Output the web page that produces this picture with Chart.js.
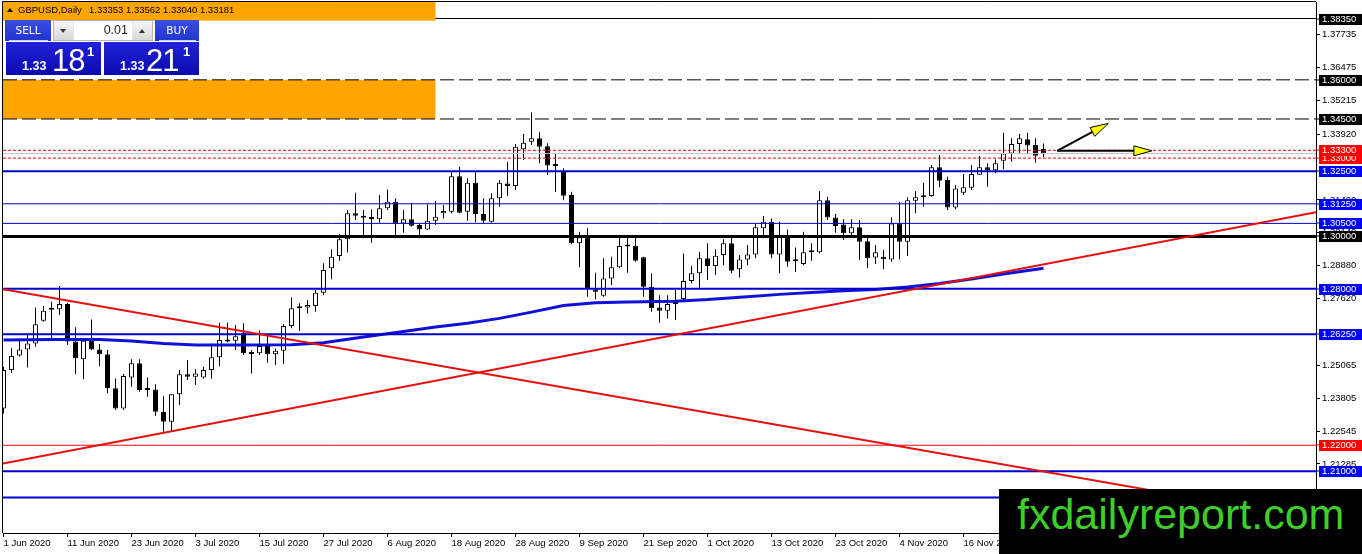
<!DOCTYPE html>
<html>
<head>
<meta charset="utf-8">
<title>GBPUSD Daily</title>
<script src="https://cdn.jsdelivr.net/npm/chart.js@4.4.0/dist/chart.umd.min.js"></script>
<style>
  html, body { margin: 0; padding: 0; background: #fff; }
  #wrap { position: relative; width: 1362px; height: 554px; overflow: hidden; }
  #chart { position: absolute; left: 0; top: 0; }
  #hdrTri { position: absolute; left: 7px; top: 8px; width: 0; height: 0;
    border-left: 3px solid transparent; border-right: 3px solid transparent; border-bottom: 4px solid #000; }
  .hdr { position: absolute; top: 5px; font: 9.5px/10px "Liberation Sans", sans-serif; color: #000; white-space: pre; }
  .btn { position: absolute; top: 20px; height: 21px; color: #fff; text-align: center;
    font: 10.5px/20px "DejaVu Sans", sans-serif; background: linear-gradient(#3a4ee2, #2034d0); }
  .btn::after { content: ""; position: absolute; left: 4px; right: 3px; bottom: 0; height: 1px; background: rgba(255,255,255,0.75); }
  #sellBtn { left: 5px; width: 46px; }
  #buyBtn { left: 155px; width: 44px; }
  #spin { position: absolute; left: 53px; top: 20px; width: 100px; height: 21px; box-sizing: border-box;
    background: #e6e6e6; border: 1px solid #b4b4b4; }
  .sb { position: absolute; top: 0; width: 19px; height: 19px; background: linear-gradient(#f6f6f6, #d8d8d8); }
  .tri { position: absolute; left: 6px; top: 8px; width: 0; height: 0;
    border-left: 3.5px solid transparent; border-right: 3.5px solid transparent; }
  .tri.dn { border-top: 4px solid #333; }
  .tri.up { border-bottom: 4px solid #333; }
  #lot { position: absolute; left: 20px; top: 0; width: 58px; height: 19px; box-sizing: border-box; padding-right: 4px;
    background: #fff; text-align: right; font: 12.5px/19px "Liberation Sans", sans-serif; color: #222; }
  .px { position: absolute; top: 42px; width: 95px; height: 33px; color: #fff;
    background: linear-gradient(180deg, #2222d8 0%, #0a0aae 100%); }
  #sellPx { left: 6px; }
  #buyPx { left: 104px; }
  .px span { position: absolute; white-space: nowrap; font-family: "Liberation Sans", sans-serif; }
  .px .s { left: 16px; top: 18px; font-size: 12.5px; line-height: 12.5px; font-weight: bold; }
  .px .l { top: 2.5px; font-size: 31px; line-height: 31px; letter-spacing: -1px; }
  .px .p { top: 3px; font-size: 13px; line-height: 13px; font-weight: bold; }
  #wm { position: absolute; left: 999px; top: 489px; width: 363px; height: 65px; background: #000; }
  #wm span { position: absolute; left: 18px; top: 4px; font: 43px/43px "Liberation Sans", sans-serif; color: #3ccf28; white-space: nowrap; }
</style>
</head>
<body>
<div id="wrap">
  <canvas id="chart" width="1362" height="554"></canvas>
  <div id="hdrTri"></div>
  <div class="hdr" style="left:18px">GBPUSD,Daily</div>
  <div class="hdr" style="left:89px">1.33353 1.33562 1.33040 1.33181</div>
  <div id="sellBtn" class="btn">SELL</div>
  <div id="spin">
    <div class="sb" style="left:0"><i class="tri dn"></i></div>
    <div id="lot">0.01</div>
    <div class="sb" style="right:0"><i class="tri up"></i></div>
  </div>
  <div id="buyBtn" class="btn">BUY</div>
  <div id="sellPx" class="px"><span class="s">1.33</span><span class="l" style="left:46px">18</span><span class="p" style="left:81px">1</span></div>
  <div id="buyPx" class="px"><span class="s">1.33</span><span class="l" style="left:42px">21</span><span class="p" style="left:79px">1</span></div>
  <div id="wm"><span>fxdailyreport.com</span></div>
</div>
<script>
// daily candles, 1 Jun 2020 .. 30 Nov 2020 (one per trading day)
const opens = [
  1.2341, 1.2488, 1.2544, 1.2567, 1.2590, 1.2677, 1.2720, 1.2721, 1.2741, 1.2597,
  1.2529, 1.2610, 1.2567, 1.2549, 1.2418, 1.2341, 1.2460, 1.2514, 1.2412, 1.2414,
  1.2328, 1.2290, 1.2395, 1.2472, 1.2462, 1.2460, 1.2488, 1.2537, 1.2603, 1.2600,
  1.2631, 1.2552, 1.2552, 1.2580, 1.2549, 1.2562, 1.2657, 1.2725, 1.2728, 1.2733,
  1.2784, 1.2878, 1.2925, 1.2989, 1.3089, 1.3079, 1.3072, 1.3066, 1.3108, 1.3133,
  1.3050, 1.3066, 1.3044, 1.3027, 1.3060, 1.3089, 1.3095, 1.3231, 1.3095, 1.3206,
  1.3086, 1.3056, 1.3146, 1.3203, 1.3193, 1.3334, 1.3363, 1.3376, 1.3346, 1.3272,
  1.3248, 1.3159, 1.2974, 1.2997, 1.2797, 1.2773, 1.2839, 1.2882, 1.2963, 1.2964,
  1.2920, 1.2807, 1.2728, 1.2715, 1.2741, 1.2760, 1.2829, 1.2859, 1.2916, 1.2887,
  1.2929, 1.2974, 1.2874, 1.2912, 1.2931, 1.3031, 1.3056, 1.2931, 1.3005, 1.2905,
  1.2894, 1.2941, 1.2939, 1.3139, 1.3073, 1.3046, 1.3012, 1.3035, 1.2982, 1.2919,
  1.2922, 1.2912, 1.3050, 1.2980, 1.3137, 1.3150, 1.3155, 1.3265, 1.3216, 1.3111,
  1.3167, 1.3187, 1.3236, 1.3265, 1.3254, 1.3290, 1.3318, 1.3354, 1.3372, 1.3350,
  1.33353
];
const highs = [
  1.2501, 1.2572, 1.2603, 1.2629, 1.2728, 1.2733, 1.2750, 1.2810, 1.2746, 1.2652,
  1.2610, 1.2682, 1.2588, 1.2565, 1.2456, 1.2473, 1.2529, 1.2529, 1.2460, 1.2434,
  1.2388, 1.2396, 1.2488, 1.2526, 1.2491, 1.2501, 1.2590, 1.2669, 1.2669, 1.2661,
  1.2667, 1.2565, 1.2641, 1.2622, 1.2571, 1.2664, 1.2767, 1.2744, 1.2756, 1.2795,
  1.2897, 1.2951, 1.3009, 1.3101, 1.3167, 1.3101, 1.3104, 1.3159, 1.3180, 1.3146,
  1.3101, 1.3127, 1.3050, 1.3123, 1.3137, 1.3120, 1.3246, 1.3267, 1.3223, 1.3246,
  1.3146, 1.3165, 1.3216, 1.3285, 1.3354, 1.3392, 1.3476, 1.3399, 1.3357, 1.3318,
  1.3261, 1.3171, 1.3018, 1.3031, 1.2861, 1.2916, 1.2922, 1.3002, 1.2999, 1.2999,
  1.2922, 1.2859, 1.2775, 1.2775, 1.2795, 1.2935, 1.2887, 1.2941, 1.2974, 1.2951,
  1.2989, 1.3005, 1.2929, 1.2967, 1.3050, 1.3078, 1.3069, 1.3056, 1.3027, 1.2958,
  1.3018, 1.2974, 1.3174, 1.3152, 1.3086, 1.3066, 1.3066, 1.3063, 1.2997, 1.2967,
  1.2948, 1.3073, 1.3133, 1.3150, 1.3174, 1.3206, 1.3274, 1.3312, 1.3229, 1.3197,
  1.3239, 1.3274, 1.3308, 1.3280, 1.3295, 1.3397, 1.3376, 1.3392, 1.3397, 1.3376,
  1.33562
];
const lows = [
  1.2322, 1.2477, 1.2540, 1.2498, 1.2577, 1.2673, 1.2610, 1.2699, 1.2584, 1.2473,
  1.2453, 1.2565, 1.2503, 1.2399, 1.2335, 1.2335, 1.2424, 1.2405, 1.2386, 1.2312,
  1.2252, 1.2252, 1.2354, 1.2450, 1.2431, 1.2455, 1.2455, 1.2503, 1.2595, 1.2565,
  1.2546, 1.2475, 1.2546, 1.2516, 1.2507, 1.2511, 1.2648, 1.2638, 1.2705, 1.2711,
  1.2775, 1.2836, 1.2907, 1.2938, 1.3063, 1.2999, 1.2976, 1.3052, 1.3101, 1.2999,
  1.3014, 1.3037, 1.2999, 1.3025, 1.3044, 1.3069, 1.3089, 1.3089, 1.3060, 1.3054,
  1.3048, 1.3052, 1.3114, 1.3155, 1.3178, 1.3293, 1.3350, 1.3280, 1.3235, 1.3171,
  1.3139, 1.2970, 1.2882, 1.2769, 1.2759, 1.2769, 1.2814, 1.2878, 1.2861, 1.2903,
  1.2769, 1.2711, 1.2669, 1.2686, 1.2680, 1.2756, 1.2820, 1.2801, 1.2833, 1.2852,
  1.2890, 1.2859, 1.2843, 1.2890, 1.2916, 1.3005, 1.2916, 1.2859, 1.2884, 1.2865,
  1.2890, 1.2907, 1.2935, 1.3063, 1.3014, 1.2986, 1.2999, 1.2910, 1.2878, 1.2894,
  1.2874, 1.2903, 1.2912, 1.2925, 1.3089, 1.3114, 1.3152, 1.3188, 1.3101, 1.3104,
  1.3159, 1.3178, 1.3235, 1.3190, 1.3242, 1.3257, 1.3286, 1.3318, 1.3316, 1.3282,
  1.33040
];
const closes = [
  1.2488, 1.2542, 1.2567, 1.2590, 1.2664, 1.2715, 1.2719, 1.2741, 1.2597, 1.2533,
  1.2600, 1.2567, 1.2549, 1.2418, 1.2341, 1.2465, 1.2514, 1.2412, 1.2414, 1.2328,
  1.2290, 1.2395, 1.2472, 1.2462, 1.2475, 1.2488, 1.2537, 1.2603, 1.2597, 1.2618,
  1.2552, 1.2550, 1.2580, 1.2549, 1.2562, 1.2657, 1.2725, 1.2728, 1.2737, 1.2784,
  1.2871, 1.2922, 1.2989, 1.3089, 1.3079, 1.3072, 1.3067, 1.3108, 1.3133, 1.3050,
  1.3066, 1.3041, 1.3027, 1.3060, 1.3075, 1.3097, 1.3231, 1.3091, 1.3206, 1.3086,
  1.3060, 1.3146, 1.3206, 1.3193, 1.3344, 1.3359, 1.3376, 1.3344, 1.3272, 1.3270,
  1.3156, 1.2974, 1.2997, 1.2801, 1.2788, 1.2839, 1.2882, 1.2963, 1.2961, 1.2907,
  1.2807, 1.2725, 1.2715, 1.2741, 1.2744, 1.2829, 1.2859, 1.2916, 1.2887, 1.2926,
  1.2974, 1.2869, 1.2912, 1.2931, 1.3035, 1.3056, 1.2931, 1.3005, 1.2903, 1.2908,
  1.2939, 1.2939, 1.3139, 1.3073, 1.3040, 1.3012, 1.3035, 1.2980, 1.2916, 1.2939,
  1.2913, 1.3050, 1.2980, 1.3139, 1.3150, 1.3156, 1.3265, 1.3213, 1.3111, 1.3184,
  1.3188, 1.3239, 1.3265, 1.3254, 1.3280, 1.3318, 1.3354, 1.3376, 1.3348, 1.3309,
  1.33181
];

// moving average read at a handful of bars
const maBars = [0, 6, 12, 16, 20, 24, 30, 36, 40, 45, 50, 54, 58, 62, 66, 70, 74, 78, 84, 88, 93, 97, 101, 105, 109, 113, 117, 121, 125, 130];
const maValues = [1.2603, 1.2605, 1.2605, 1.2599, 1.2590, 1.2584, 1.2584, 1.2585, 1.2593, 1.2615,
  1.2636, 1.2653, 1.2667, 1.2686, 1.2710, 1.2735, 1.2746, 1.2749, 1.2752, 1.2758,
  1.2769, 1.2778, 1.2785, 1.2792, 1.2797, 1.2806, 1.2820, 1.2837, 1.2856, 1.2878];

// horizontal levels drawn on the chart
const levelPrices = [1.38350, 1.36000, 1.34500, 1.33000, 1.33300, 1.32500, 1.31250, 1.30500, 1.30000, 1.28000, 1.26250, 1.22000, 1.21000, 1.20000];
const levelKinds = ['black', 'blackDash', 'blackDash', 'redDot', 'redDot', 'blueThick', 'blueThin', 'blueThin', 'blackThick', 'blueThick', 'blueThick', 'redThin', 'blueThick', 'blueThick'];
const bidPrice = 1.33181;

// price axis ticks and date axis ticks
const priceTicks = [1.37735, 1.36475, 1.35215, 1.33920, 1.31400, 1.30140, 1.28880, 1.27620, 1.25065, 1.23805, 1.22545, 1.21285];
const dateTickBars = [0, 8, 16, 24, 32, 40, 48, 56, 64, 72, 80, 88, 96, 104, 112, 120];
const dateTickLabels = ['1 Jun 2020', '11 Jun 2020', '23 Jun 2020', '3 Jul 2020', '15 Jul 2020', '27 Jul 2020',
  '6 Aug 2020', '18 Aug 2020', '28 Aug 2020', '9 Sep 2020', '21 Sep 2020', '1 Oct 2020',
  '13 Oct 2020', '23 Oct 2020', '4 Nov 2020', '16 Nov 2020'];

// visible window (bars / price)
const X0 = -0.0625, X1 = 164.0625;
const Y0 = 1.186374, Y1 = 1.389822;

const levelStartBar = [54, X0, X0, X0, X0, X0, X0, X0, X0, X0, X0, X0, X0, X0];

// trend lines
const trendFromBar = [X0, X0];
const trendFromPrice = [1.27975, 1.21296];
const trendToBar = [X1, X1];
const trendToPrice = [1.19162, 1.30932];

// orange zones
const zoneFromBar = [X0, X0];
const zoneToBar = [54, 54];
const zoneHigh = [Y1, 1.36000];
const zoneLow = [1.38266, 1.34500];

// yellow arrows
const arrowFromBar = [131.7, 131.7];
const arrowFromPrice = [1.3328, 1.3328];
const arrowToBar = [138.1, 143.55];
const arrowToPrice = [1.3433, 1.3328];

const levelStyles = {
  black:      { line: '#000000', width: 1, dash: [],      box: '#000000' },
  blackDash:  { line: '#000000', width: 1, dash: [14, 5], box: '#000000' },
  blackThick: { line: '#000000', width: 3, dash: [],      box: '#000000' },
  redDot:     { line: '#ff0000', width: 1, dash: [3, 2],  box: '#ff0000' },
  redThin:    { line: '#ff0000', width: 1, dash: [],      box: '#ff0000' },
  blueThick:  { line: '#0000cc', width: 2, dash: [],      box: '#0000ff' },
  blueThin:   { line: '#0000cc', width: 1, dash: [],      box: '#0000ff' }
};
const FONT = '"Liberation Sans", Arial, sans-serif';

const wickData = opens.map((o, i) => ({ x: i, y: [lows[i], highs[i]] }));
const bodyData = opens.map((o, i) => ({ x: i, y: [Math.min(o, closes[i]), Math.max(o, closes[i])] }));
const bodyColors = opens.map((o, i) => closes[i] > o ? '#ffffff' : '#000000');

const levelSets = levelPrices.map((p, k) => {
  const st = levelStyles[levelKinds[k]];
  return {
    type: 'line',
    data: [{ x: levelStartBar[k], y: p }, { x: X1, y: p }],
    borderColor: st.line,
    borderWidth: st.width,
    borderDash: st.dash,
    pointRadius: 0,
    order: 4
  };
});

const trendSets = trendFromBar.map((b, k) => ({
  type: 'line',
  data: [{ x: b, y: trendFromPrice[k] }, { x: trendToBar[k], y: trendToPrice[k] }],
  borderColor: '#e41010',
  borderWidth: 2,
  pointRadius: 0,
  order: 2
}));

// orange rectangles behind the candles
const zonesPlugin = {
  id: 'zones',
  beforeDatasetsDraw(chart) {
    const { ctx, scales: { x, y } } = chart;
    ctx.save();
    ctx.fillStyle = '#ffa500';
    zoneFromBar.forEach((b, k) => {
      const l = x.getPixelForValue(b), r = x.getPixelForValue(zoneToBar[k]);
      const t = y.getPixelForValue(zoneHigh[k]), bt = y.getPixelForValue(zoneLow[k]);
      ctx.fillRect(l, t, r - l, bt - t);
    });
    ctx.restore();
  }
};

// arrows drawn on top of the lines
const arrowsPlugin = {
  id: 'arrows',
  afterDatasetsDraw(chart) {
    const { ctx, scales: { x, y } } = chart;
    ctx.save();
    arrowFromBar.forEach((b, k) => {
      const fx = x.getPixelForValue(b), fy = y.getPixelForValue(arrowFromPrice[k]);
      const tx = x.getPixelForValue(arrowToBar[k]), ty = y.getPixelForValue(arrowToPrice[k]);
      const a = Math.atan2(ty - fy, tx - fx);
      const head = 18, half = 5;
      const bx = tx - head * Math.cos(a), by = ty - head * Math.sin(a);
      ctx.strokeStyle = '#000';
      ctx.lineWidth = 2;
      ctx.beginPath();
      ctx.moveTo(fx, fy);
      ctx.lineTo(bx, by);
      ctx.stroke();
      ctx.beginPath();
      ctx.moveTo(tx, ty);
      ctx.lineTo(bx - half * Math.sin(a), by + half * Math.cos(a));
      ctx.lineTo(bx + half * Math.sin(a), by - half * Math.cos(a));
      ctx.closePath();
      ctx.fillStyle = '#ffff00';
      ctx.fill();
      ctx.lineWidth = 1;
      ctx.stroke();
    });
    ctx.restore();
  }
};

// frame and coloured price labels of the levels
const labelsPlugin = {
  id: 'levelLabels',
  afterDraw(chart) {
    const { ctx, chartArea: area, scales: { y } } = chart;
    ctx.save();
    ctx.strokeStyle = '#000';
    ctx.lineWidth = 1;
    ctx.beginPath();
    ctx.moveTo(area.left - 0.5, area.bottom);
    ctx.lineTo(area.left - 0.5, area.top - 0.5);
    ctx.lineTo(area.right, area.top - 0.5);
    ctx.stroke();
    ctx.font = '9.5px ' + FONT;
    ctx.textBaseline = 'middle';
    levelPrices.forEach((p, k) => {
      const st = levelStyles[levelKinds[k]];
      const py = Math.round(y.getPixelForValue(p));
      ctx.fillStyle = st.line;
      ctx.fillRect(area.right, py - 0.5, 4, 1);
      ctx.fillStyle = st.box;
      ctx.fillRect(area.right + 3, py - 5, 43, 11);
      ctx.fillStyle = '#ffffff';
      ctx.fillText(p.toFixed(5), area.right + 6, py + 0.5);
    });
    ctx.restore();
  }
};

new Chart(document.getElementById('chart'), {
  type: 'bar',
  data: {
    datasets: [
      ...trendSets,
      ...levelSets,
      {
        type: 'line',
        data: maBars.map((b, k) => ({ x: b, y: maValues[k] })),
        borderColor: '#1010d8',
        borderWidth: 3,
        pointRadius: 0,
        order: 5
      },
      {
        type: 'line',
        data: [{ x: X0, y: bidPrice }, { x: X1, y: bidPrice }],
        borderColor: '#c4c4c4',
        borderWidth: 1,
        pointRadius: 0,
        order: 7
      },
      {
        data: bodyData,
        backgroundColor: bodyColors,
        borderColor: '#000000',
        borderWidth: 1,
        borderSkipped: false,
        barThickness: 5,
        minBarLength: 2,
        inflateAmount: 0,
        grouped: false,
        order: 9
      },
      {
        data: wickData,
        backgroundColor: '#000000',
        borderWidth: 0,
        barThickness: 1,
        inflateAmount: 0,
        grouped: false,
        order: 10
      }
    ]
  },
  options: {
    responsive: false,
    devicePixelRatio: 1,
    animation: false,
    events: [],
    layout: { padding: { left: 3, top: 2, right: 0, bottom: 0 } },
    plugins: { legend: { display: false }, tooltip: { enabled: false } },
    scales: {
      x: {
        type: 'linear',
        min: X0,
        max: X1,
        offset: false,
        afterBuildTicks: s => { s.ticks = dateTickBars.map(v => ({ value: v })); },
        afterFit: s => { s.height = 21; s.paddingLeft = 0; s.paddingRight = 0; },
        grid: { drawOnChartArea: false, drawTicks: true, tickLength: 4, color: '#000', offset: false },
        border: { display: true, color: '#000', width: 1 },
        ticks: {
          autoSkip: false,
          maxRotation: 0,
          align: 'start',
          padding: 1,
          color: '#000',
          font: { family: FONT, size: 9.5 },
          callback: (v, i) => dateTickLabels[i]
        }
      },
      y: {
        type: 'linear',
        position: 'right',
        min: Y0,
        max: Y1,
        afterBuildTicks: s => { s.ticks = priceTicks.map(v => ({ value: v })); },
        afterFit: s => { s.width = 46; s.paddingTop = 0; s.paddingBottom = 0; },
        grid: { drawOnChartArea: false, drawTicks: true, tickLength: 4, color: '#000' },
        border: { display: true, color: '#000', width: 1 },
        ticks: {
          autoSkip: false,
          padding: 2,
          color: '#000',
          font: { family: FONT, size: 9.5 },
          callback: v => Number(v).toFixed(5)
        }
      }
    }
  },
  plugins: [zonesPlugin, arrowsPlugin, labelsPlugin]
});
</script>
</body>
</html>
